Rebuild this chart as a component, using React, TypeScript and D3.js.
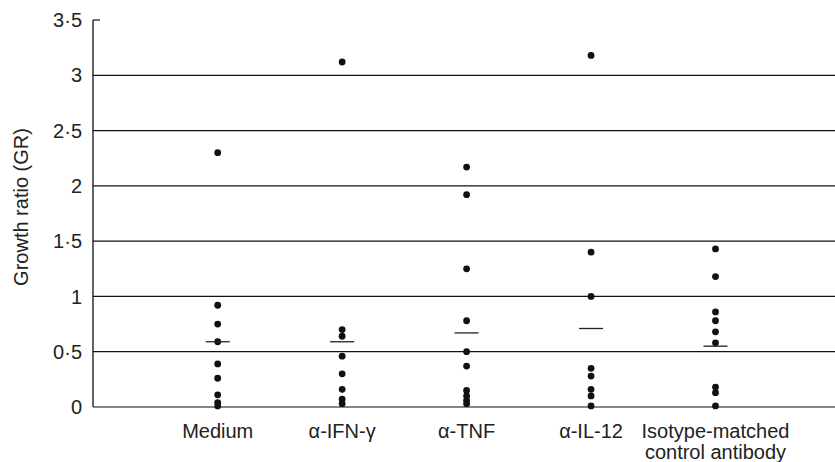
import React from "react";
import * as d3 from "d3";

const categories = ["Medium", "α-IFN-γ", "α-TNF", "α-IL-12", "Isotype-matched control antibody"];
const categoryLabelLines = [["Medium"], ["α-IFN-γ"], ["α-TNF"], ["α-IL-12"], ["Isotype-matched", "control antibody"]];

const mediumValues = [2.3, 0.92, 0.75, 0.59, 0.39, 0.26, 0.11, 0.04, 0.01];
const ifnValues = [3.12, 0.7, 0.64, 0.46, 0.3, 0.16, 0.07, 0.03];
const tnfValues = [2.17, 1.92, 1.25, 0.78, 0.5, 0.37, 0.15, 0.1, 0.06, 0.03];
const il12Values = [3.18, 1.4, 1.0, 0.35, 0.28, 0.16, 0.1, 0.01];
const isotypeValues = [1.43, 1.18, 0.86, 0.78, 0.68, 0.58, 0.18, 0.13, 0.01];
const seriesValues = [mediumValues, ifnValues, tnfValues, il12Values, isotypeValues];
const meanValues = [0.59, 0.59, 0.67, 0.71, 0.55];

const yTicks = [0, 0.5, 1, 1.5, 2, 2.5, 3, 3.5];
const yTickLabels = ["0", "0·5", "1", "1·5", "2", "2·5", "3", "3·5"];
const yAxisTitle = "Growth ratio (GR)";

const W = 835;
const H = 462;
const FONT = "'Liberation Sans', Arial, Helvetica, sans-serif";

export default function App() {
  const axisX = 93;
  const x = d3.scalePoint<string>().domain(categories).range([217.7, 715.5]);
  const y = d3.scaleLinear().domain([0, 3.5]).range([407, 20]);
  const meanHalf = 12;
  const r = 3.4;
  const fs = 20;

  return (
    <svg
      width={W}
      height={H}
      style={{ position: "absolute", left: 0, top: 0, background: "#fff" }}
      fontFamily={FONT}
    >
      <rect width={W} height={H} fill="#fff" />
      {yTicks.map((t, i) =>
        t < 3.5 ? (
          <line key={"g" + i} x1={axisX} x2={W} y1={y(t)} y2={y(t)} stroke="#111" strokeWidth={1.2} />
        ) : (
          <line key={"g" + i} x1={axisX} x2={axisX + 7} y1={y(t)} y2={y(t)} stroke="#111" strokeWidth={1.2} />
        )
      )}
      <line x1={axisX} x2={axisX} y1={y(3.5)} y2={y(0)} stroke="#111" strokeWidth={1.3} />
      {yTicks.map((t, i) => (
        <text key={"t" + i} x={82} y={y(t)} dy="0.36em" textAnchor="end" fontSize={fs} fill="#222">
          {yTickLabels[i]}
        </text>
      ))}
      <text
        transform={`translate(28,${207}) rotate(-90)`}
        textAnchor="middle"
        fontSize={fs}
        fill="#222"
      >
        {yAxisTitle}
      </text>
      {categories.map((c, i) => (
        <g key={"c" + i}>
          {seriesValues[i].map((v, j) => (
            <circle key={j} cx={x(c)} cy={y(v)} r={r} fill="#111" />
          ))}
          <line
            x1={(x(c) as number) - meanHalf}
            x2={(x(c) as number) + meanHalf}
            y1={y(meanValues[i])}
            y2={y(meanValues[i])}
            stroke="#222"
            strokeWidth={1.3}
          />
          {categoryLabelLines[i].map((ln, k) => (
            <text key={k} x={x(c)} y={438 + k * 21} textAnchor="middle" fontSize={fs} fill="#222">
              {ln}
            </text>
          ))}
        </g>
      ))}
    </svg>
  );
}
